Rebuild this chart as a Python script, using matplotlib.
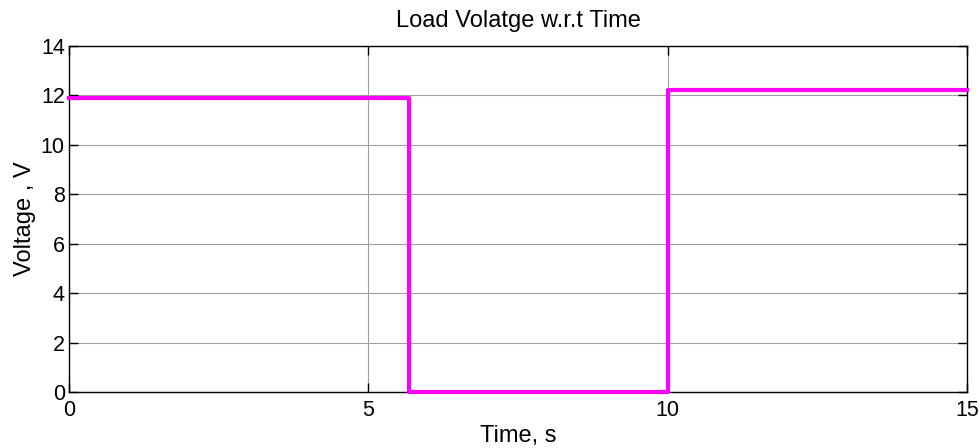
import matplotlib
matplotlib.use("Agg")
import matplotlib.pyplot as plt
import numpy as np

# Data
switch_times = [0.0, 5.68, 10.0, 15.0]   # s
levels = [11.88, 0.0, 12.2]              # V for each interval
x_ticks = [0, 5, 10, 15]
y_ticks = [0, 2, 4, 6, 8, 10, 12, 14]

plt.rcParams['font.family'] = ['Liberation Sans', 'DejaVu Sans']

fig = plt.figure(figsize=(9.8, 4.48), dpi=100)
ax = fig.add_axes([69/980, 1 - 392/448, 898/980, 346/448])

t = np.array(switch_times)
v = np.array(levels + [levels[-1]])
ax.step(t, v, where='post', color='#ff00ff', lw=3, clip_on=False, zorder=3)

ax.set_xlim(0, 15)
ax.set_ylim(0, 14)
ax.set_xticks(x_ticks)
ax.set_yticks(y_ticks)
ax.grid(True, color='#a0a0a0', lw=0.8, ls='-')
ax.set_axisbelow(True)

ax.tick_params(direction='in', length=6.5, width=1, top=True, right=True,
               labelsize=15.5, colors='black')
ax.tick_params(axis='x', pad=6)
ax.tick_params(axis='y', pad=3)
for s in ax.spines.values():
    s.set_linewidth(1)
    s.set_color('black')

ax.set_title('Load Volatge w.r.t Time', fontsize=17, pad=14)
ax.set_xlabel('Time, s', fontsize=17)
ax.set_ylabel('Voltage , V', fontsize=17)
ax.xaxis.set_label_coords(0.5, -0.095)
ax.yaxis.set_label_coords(-0.037, 0.5)

fig.savefig('out.png', dpi=100)
